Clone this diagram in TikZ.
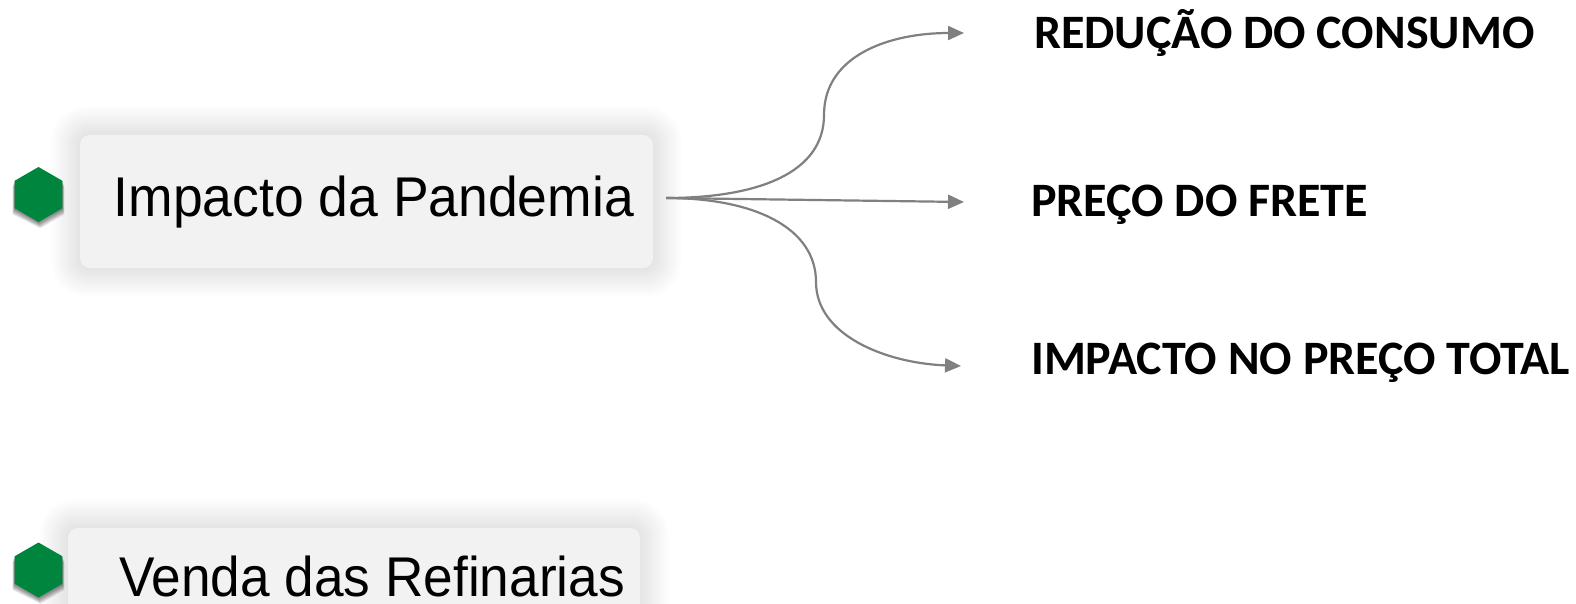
\documentclass[tikz,border=0pt]{standalone}
\usepackage{fontspec}
\setmainfont{Liberation Sans}
\newfontfamily\labfont{Carlito}
\usetikzlibrary{shapes.geometric,arrows.meta,backgrounds}
\definecolor{hexgreen}{RGB}{0,133,62}
\definecolor{arrowgray}{RGB}{128,128,128}
\definecolor{boxgray}{RGB}{242,242,242}
\tikzset{
  hexnode/.style={regular polygon, regular polygon sides=6, shape border rotate=30,
    minimum size=55pt, inner sep=0pt, fill=hexgreen},
  glowbox/.style={rectangle, rounded corners=10pt, fill=boxgray, inner sep=0pt},
  glowlayer/.style={fill=black, fill opacity=0.007},
  hexshadow/.style={fill=black, fill opacity=0.09},
  mainlabel/.style={anchor=base west, inner sep=0pt, font=\fontsize{56}{60}\selectfont},
  sublabel/.style={anchor=base west, inner sep=0pt, font=\labfont\bfseries\fontsize{48}{52}\selectfont},
  conn/.style={draw=arrowgray, line width=2.2pt, -{Triangle[length=16pt,width=14pt]}},
}
\begin{document}
\begin{tikzpicture}[x=1pt,y=-1pt]
\useasboundingbox (0,0) rectangle (1576,603);

% boxes
\node[glowbox, minimum width=573pt, minimum height=133pt] (box1) at (366.5,201.5) {};
\node[glowbox, minimum width=572pt, minimum height=110pt] (box2) at (354,583) {};

% hexagons
\node[hexnode] (hex1) at (38.5,194.5) {};
\node[hexnode] (hex2) at (38.5,570) {};

\begin{scope}[on background layer]
\fill[white] (0,0) rectangle (1576,603);
\foreach \i in {1,...,13}{
  \fill[glowlayer, rounded corners={10pt+2*\i pt}]
    ([xshift=-2.2*\i pt, yshift=-2.2*\i pt]box1.south west) rectangle
    ([xshift=2.2*\i pt, yshift=2.2*\i pt]box1.north east);
  \fill[glowlayer, rounded corners={10pt+2*\i pt}]
    ([xshift=-2.2*\i pt, yshift=-2.2*\i pt]box2.south west) rectangle
    ([xshift=2.2*\i pt, yshift=2.2*\i pt]box2.north east);
}
\foreach \h in {hex1,hex2}{
  \foreach \s in {1,2,3,4,5,6}{
    \fill[hexshadow]
      ([xshift=-0.3*\s pt, yshift=-\s pt]\h.corner 1) --
      ([xshift=-0.3*\s pt, yshift=-\s pt]\h.corner 2) --
      ([xshift=-0.3*\s pt, yshift=-\s pt]\h.corner 3) --
      ([xshift=0.3*\s pt, yshift=-\s pt]\h.corner 4) --
      ([xshift=0.3*\s pt, yshift=-\s pt]\h.corner 5) --
      ([xshift=0.3*\s pt, yshift=-\s pt]\h.corner 6) -- cycle;
  }
}
\end{scope}

% main texts
\node[mainlabel] (imp) at (113.5,216) {\scalebox{0.955}[1]{Impacto da Pandemia}};
\node[mainlabel] (ven) at (119,596) {\scalebox{0.95}[1]{Venda das Refinarias}};

% sub labels
\node[sublabel] (red) at (1034,48) {REDUÇÃO DO CONSUMO};
\node[sublabel] (fre) at (1031,216) {PREÇO DO FRETE};
\node[sublabel] (tot) at (1031,374) {IMPACTO NO PREÇO TOTAL};

% connectors
\coordinate (src) at (666,198);
\coordinate (t1) at (964,33);
\coordinate (t2) at (964,202);
\coordinate (t3) at (961,366);
\draw[conn] (src) .. controls (760,198) and (824,172) .. (824,115)
  .. controls (824,55) and (890,33) .. (t1);
\draw[conn] (src) -- (t2);
\draw[conn] (src) .. controls (755,198) and (816,228) .. (816,282)
  .. controls (816,335) and (885,363) .. (t3);
\end{tikzpicture}
\end{document}
